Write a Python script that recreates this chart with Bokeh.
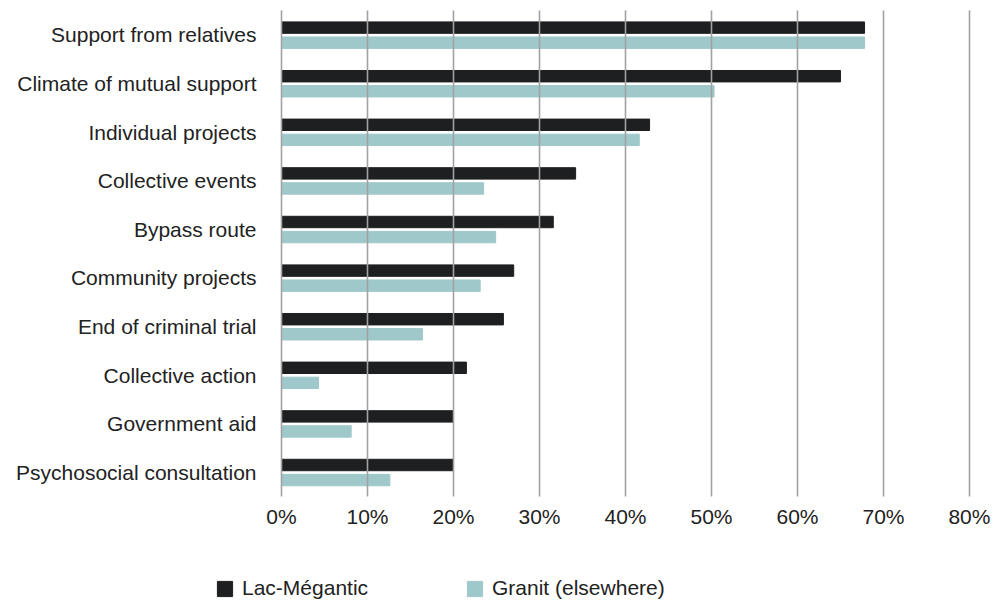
from bokeh.plotting import figure
from bokeh.layouts import column, row
from bokeh.models import (ColumnDataSource, FactorRange, Range1d, FixedTicker,
                          PrintfTickFormatter, Legend, LegendItem, Spacer)
from bokeh.transform import dodge
from bokeh.embed import file_html
from bokeh.resources import INLINE

# Share of respondents citing each factor (%)
categories = [
    "Support from relatives",
    "Climate of mutual support",
    "Individual projects",
    "Collective events",
    "Bypass route",
    "Community projects",
    "End of criminal trial",
    "Collective action",
    "Government aid",
    "Psychosocial consultation",
]
lac_megantic = [67.8, 65.0, 42.8, 34.2, 31.6, 27.0, 25.8, 21.5, 20.0, 20.0]
granit = [67.8, 50.3, 41.6, 23.5, 24.9, 23.1, 16.4, 4.3, 8.1, 12.6]
x_ticks = [0, 10, 20, 30, 40, 50, 60, 70, 80]

series_names = ["Lac-Mégantic", "Granit (elsewhere)"]
colors = ["#1e1f21", "#9fc8cb"]

FONT = "Liberation Sans"
TEXT_COLOR = "#222222"
FS = "21px"

source = ColumnDataSource(data=dict(cat=categories, lac=lac_megantic, granit=granit))

p = figure(
    width=1003, height=560,
    y_range=FactorRange(factors=list(reversed(categories))),
    # a hair of padding so the 0% and 80% grid lines are not clipped
    x_range=Range1d(-0.12, 80.12),
    output_backend="svg", toolbar_location=None,
    min_border_left=280, min_border_right=33,
    min_border_top=10, min_border_bottom=64,
)
p.outline_line_color = None
p.background_fill_color = "white"
p.border_fill_color = "white"

p.hbar(y=dodge("cat", 0.148, range=p.y_range), right="lac", left=0,
       height=0.235, color=colors[0], source=source)
p.hbar(y=dodge("cat", -0.162, range=p.y_range), right="granit", left=0,
       height=0.235, color=colors[1], source=source)

# vertical grid drawn over the bars
p.xgrid.ticker = FixedTicker(ticks=x_ticks)
p.xgrid.grid_line_color = "#a2a2a2"
p.xgrid.grid_line_width = 1.6
p.xgrid.level = "overlay"
p.ygrid.grid_line_color = None

xa = p.xaxis[0]
xa.ticker = FixedTicker(ticks=x_ticks)
xa.formatter = PrintfTickFormatter(format="%d%%")
xa.axis_line_color = None
xa.major_tick_line_color = None
xa.minor_tick_line_color = None
xa.major_tick_in = 0
xa.major_tick_out = 0
xa.major_label_standoff = 8
xa.major_label_text_font = FONT
xa.major_label_text_font_size = FS
xa.major_label_text_color = TEXT_COLOR

ya = p.yaxis[0]
ya.axis_line_color = None
ya.major_tick_line_color = None
ya.minor_tick_line_color = None
ya.major_tick_in = 0
ya.major_tick_out = 0
ya.major_label_standoff = 24
ya.major_label_text_font = FONT
ya.major_label_text_font_size = FS
ya.major_label_text_color = TEXT_COLOR

# legend strip underneath the chart
LEG_LEFT = 200
leg = figure(
    width=1003 - LEG_LEFT, height=45,
    x_range=Range1d(0, 1), y_range=Range1d(0, 1),
    x_axis_location=None, y_axis_location=None,
    output_backend="svg", toolbar_location=None,
    min_border=0,
)
leg.outline_line_color = None
leg.xgrid.visible = False
leg.ygrid.visible = False
leg.background_fill_color = "white"
leg.border_fill_color = "white"

# hidden renderers that only supply the legend swatches
k_lac = leg.hbar(y=[0], right=[0], height=0, color=colors[0], visible=False)
k_gra = leg.hbar(y=[0], right=[0], height=0, color=colors[1], visible=False)

legend = Legend(
    items=[LegendItem(label=series_names[0], renderers=[k_lac]),
           LegendItem(label=series_names[1], renderers=[k_gra])],
    orientation="horizontal",
    location=(215 - LEG_LEFT, 5),
    glyph_width=19, glyph_height=19,
    label_standoff=8, label_width=223, label_height=19,
    spacing=0, padding=0, margin=0,
    border_line_color=None, background_fill_alpha=0,
    label_text_font=FONT, label_text_font_size=FS,
    label_text_color=TEXT_COLOR,
)
leg.add_layout(legend, "center")

layout = column(p, row(Spacer(width=LEG_LEFT, height=45), leg, spacing=0), spacing=0)
open("out.html", "w").write(file_html(layout, INLINE))
